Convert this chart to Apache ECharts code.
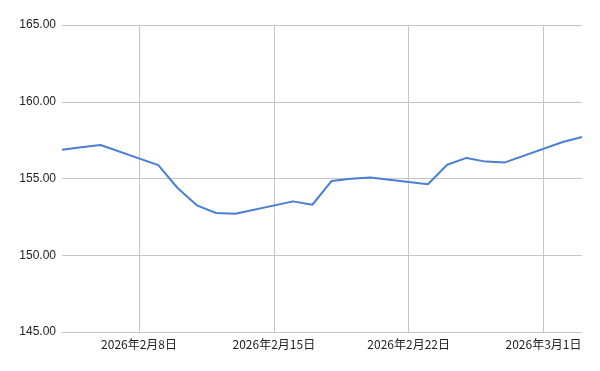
<!DOCTYPE html>
<html>
<head>
<meta charset="utf-8">
<script src="https://cdn.jsdelivr.net/npm/echarts@6/dist/echarts.min.js"></script>
<style>html,body{margin:0;padding:0;background:#fff}#c{width:600px;height:371px}</style>
</head>
<body>
<div id="c"></div>
<script>
var dates = ['2026-02-04','2026-02-05','2026-02-06','2026-02-09','2026-02-10','2026-02-11','2026-02-12','2026-02-13','2026-02-16','2026-02-17','2026-02-18','2026-02-19','2026-02-20','2026-02-23','2026-02-24','2026-02-25','2026-02-26','2026-02-27','2026-03-02','2026-03-03'];
var values = [156.88,157.04,157.18,155.87,154.38,153.25,152.75,152.70,153.51,153.29,154.84,154.99,155.06,154.63,155.90,156.34,156.10,156.05,157.38,157.70];
var xTicks = ['2026-02-08','2026-02-15','2026-02-22','2026-03-01'];
var xMin = '2026-02-04', xMax = '2026-03-03';
var yMin = 145, yMax = 165, yStep = 5;

var DAY = 86400000;
var base = Date.UTC(2026, 1, 1);
function dayNum(s){ var p = s.split('-'); return Math.round((Date.UTC(+p[0], +p[1]-1, +p[2]) - base) / DAY); }
function fmt(n){ var d = new Date(base + n * DAY); return d.getUTCFullYear()+'年'+(d.getUTCMonth()+1)+'月'+d.getUTCDate()+'日'; }
var tickNums = xTicks.map(dayNum);

var chart = echarts.init(document.getElementById('c'), null, {renderer:'canvas'});
chart.setOption({
  animation: false,
  grid: {left: 62, right: 18, top: 25, bottom: 39, containLabel: false},
  xAxis: {
    type: 'value', min: dayNum(xMin), max: dayNum(xMax),
    axisLine: {show: true, lineStyle: {color: '#c6c6c6', width: 1}},
    axisTick: {show: false, customValues: tickNums},
    splitLine: {show: true, lineStyle: {color: '#c6c6c6', width: 1}},
    axisLabel: {
      customValues: tickNums, margin: 6,
      color: '#222', fontSize: 12, fontFamily: '"Noto Sans CJK JP", "Liberation Sans", sans-serif',
      formatter: function(v){ return fmt(v); }
    }
  },
  yAxis: {
    type: 'value', min: yMin, max: yMax, interval: yStep,
    axisLine: {show: false}, axisTick: {show: false},
    splitLine: {lineStyle: {color: '#c6c6c6', width: 1}},
    axisLabel: {color: '#222', fontSize: 12, margin: 6, fontFamily: '"Liberation Sans", Arial, sans-serif',
      formatter: function(v){ return v.toFixed(2); }}
  },
  series: [{
    type: 'line', showSymbol: false, symbol: 'none',
    data: dates.map(function(d,i){ return [dayNum(d), values[i]]; }),
    lineStyle: {color: '#4a7fd6', width: 2}
  }]
});
</script>
</body>
</html>
